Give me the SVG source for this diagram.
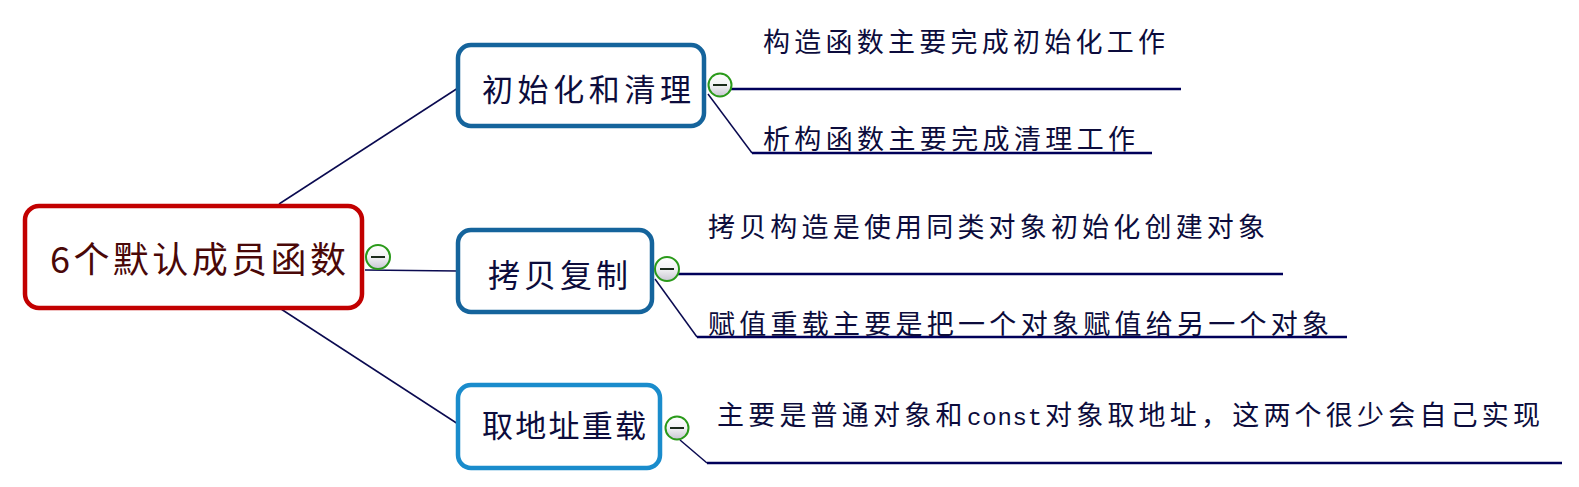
<svg xmlns="http://www.w3.org/2000/svg" width="1579" height="487" viewBox="0 0 1579 487">
<defs>
<linearGradient id="btn" x1="0" y1="0" x2="0" y2="1">
<stop offset="0" stop-color="#ffffff"/>
<stop offset="0.5" stop-color="#f2f2f4"/>
<stop offset="1" stop-color="#c8c6d2"/>
</linearGradient>
</defs>
<style>
.cjk{font-family:"Noto Sans CJK SC","Noto Sans",sans-serif;dominant-baseline:central}
.cjk2{font-family:"Noto Sans CJK SC","Noto Sans",sans-serif}
.leaf{font-size:27px;fill:#0c0c3c}
.mono{font-family:"Liberation Mono",monospace;font-size:24px;letter-spacing:0.8px}
.topic{font-size:31px;fill:#0c0c3c}
.root{font-size:36px;fill:#4a0808}
.rootbox{fill:#ffffff;stroke:#c20000;stroke-width:4.5}
.box{fill:#ffffff;stroke:#15649c;stroke-width:4.5}
.box3{fill:#ffffff;stroke:#1a8ccc;stroke-width:4.5}
.diag{stroke:#0a0a50;stroke-width:1.5;fill:none}
.under{stroke:#00005a;stroke-width:2.5;fill:none}
.tog circle{fill:url(#btn);stroke:#2a9a1a;stroke-width:2}
.tog line{stroke:#1a2a1a;stroke-width:2}
</style>
<g id="connectors">
<line class="diag" x1="279" y1="204" x2="458" y2="88"/>
<line class="diag" x1="281" y1="309" x2="458" y2="424"/>
<line class="diag" x1="365" y1="270" x2="458" y2="271"/>
<line class="under" x1="726" y1="89" x2="1181" y2="89"/>
<polyline class="diag" points="708,94 752,153"/>
<line class="under" x1="752" y1="153" x2="1152" y2="153"/>
<line class="under" x1="674" y1="274" x2="1283" y2="274"/>
<polyline class="diag" points="655,279 697,337"/>
<line class="under" x1="697" y1="337" x2="1347" y2="337"/>
<polyline class="diag" points="680,440 707,463"/>
<line class="under" x1="707" y1="463" x2="1562" y2="463"/>
</g>
<g id="root">
<rect class="rootbox" x="25" y="206" width="337" height="102" rx="14"/>
<text class="cjk root" x="50" y="257" textLength="296" lengthAdjust="spacing">6个默认成员函数</text>
<g class="tog"><circle cx="378" cy="257" r="12"/><line x1="371" y1="257" x2="385" y2="257"/></g>
</g>
<g id="n1">
<rect class="box" x="458" y="45" width="246" height="81" rx="13"/>
<text class="cjk topic" x="482" y="87" textLength="209" lengthAdjust="spacing">初始化和清理</text>
<g class="tog"><circle cx="720" cy="85" r="11.5"/><line x1="713" y1="85" x2="727" y2="85"/></g>
</g>
<g id="n1a"><text class="cjk leaf" x="763" y="40" textLength="402" lengthAdjust="spacing">构造函数主要完成初始化工作</text></g>
<g id="n1b"><text class="cjk leaf" x="763" y="137" textLength="372" lengthAdjust="spacing">析构函数主要完成清理工作</text></g>
<g id="n2">
<rect class="box" x="458" y="230" width="194" height="82" rx="13"/>
<text class="cjk topic" x="488" y="273" style="font-size:32px" textLength="140" lengthAdjust="spacing">拷贝复制</text>
<g class="tog"><circle cx="667" cy="269" r="12"/><line x1="660" y1="269" x2="674" y2="269"/></g>
</g>
<g id="n2a"><text class="cjk leaf" x="708" y="225" textLength="557" lengthAdjust="spacing">拷贝构造是使用同类对象初始化创建对象</text></g>
<g id="n2b"><text class="cjk leaf" x="708" y="322" textLength="621" lengthAdjust="spacing">赋值重载主要是把一个对象赋值给另一个对象</text></g>
<g id="n3">
<rect class="box3" x="458" y="385" width="202" height="83" rx="13"/>
<text class="cjk topic" x="482" y="423" textLength="164" lengthAdjust="spacing">取地址重载</text>
<g class="tog"><circle cx="677" cy="428" r="11.5"/><line x1="670" y1="428" x2="684" y2="428"/></g>
</g>
<g id="n3a"><text class="cjk2 leaf" x="717" y="425" style="letter-spacing:4.2px"><tspan>主要是普通对象和</tspan><tspan class="mono" x="967">const</tspan><tspan x="1045">对象取地址，这两个很少会自己实现</tspan></text></g>
</svg>
